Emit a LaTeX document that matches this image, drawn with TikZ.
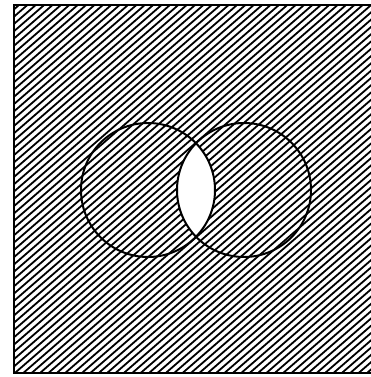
\documentclass[tikz,border=0pt]{standalone}
\usetikzlibrary{calc}
\tikzset{
  hatch/.style={line width=1.8pt, black},
  setline/.style={line width=2pt, black},
  frameline/.style={line width=2.4pt, black}
}
\begin{document}
\begin{tikzpicture}[x=1pt,y=1pt]
\useasboundingbox (0,0) rectangle (370,377);
\coordinate (L) at (148,187);
\coordinate (R) at (244,187);
\coordinate (C) at (193,188);
% hatching
\begin{scope}
  \clip (14,4) rectangle (372,372);
  \foreach \i in {-58,...,58} {
    \draw[hatch] (C) ++(131:\i*5.5) ++(41:-420) -- ++(41:840);
  }
\end{scope}
% white lens
\begin{scope}
  \clip (L) circle (67);
  \fill[white] (R) circle (67);
\end{scope}
% circles
\draw[setline] (L) circle (67);
\draw[setline] (R) circle (67);
% frame
\draw[frameline] (372,4) -- (14,4) -- (14,372) -- (372,372);
\end{tikzpicture}
\end{document}
